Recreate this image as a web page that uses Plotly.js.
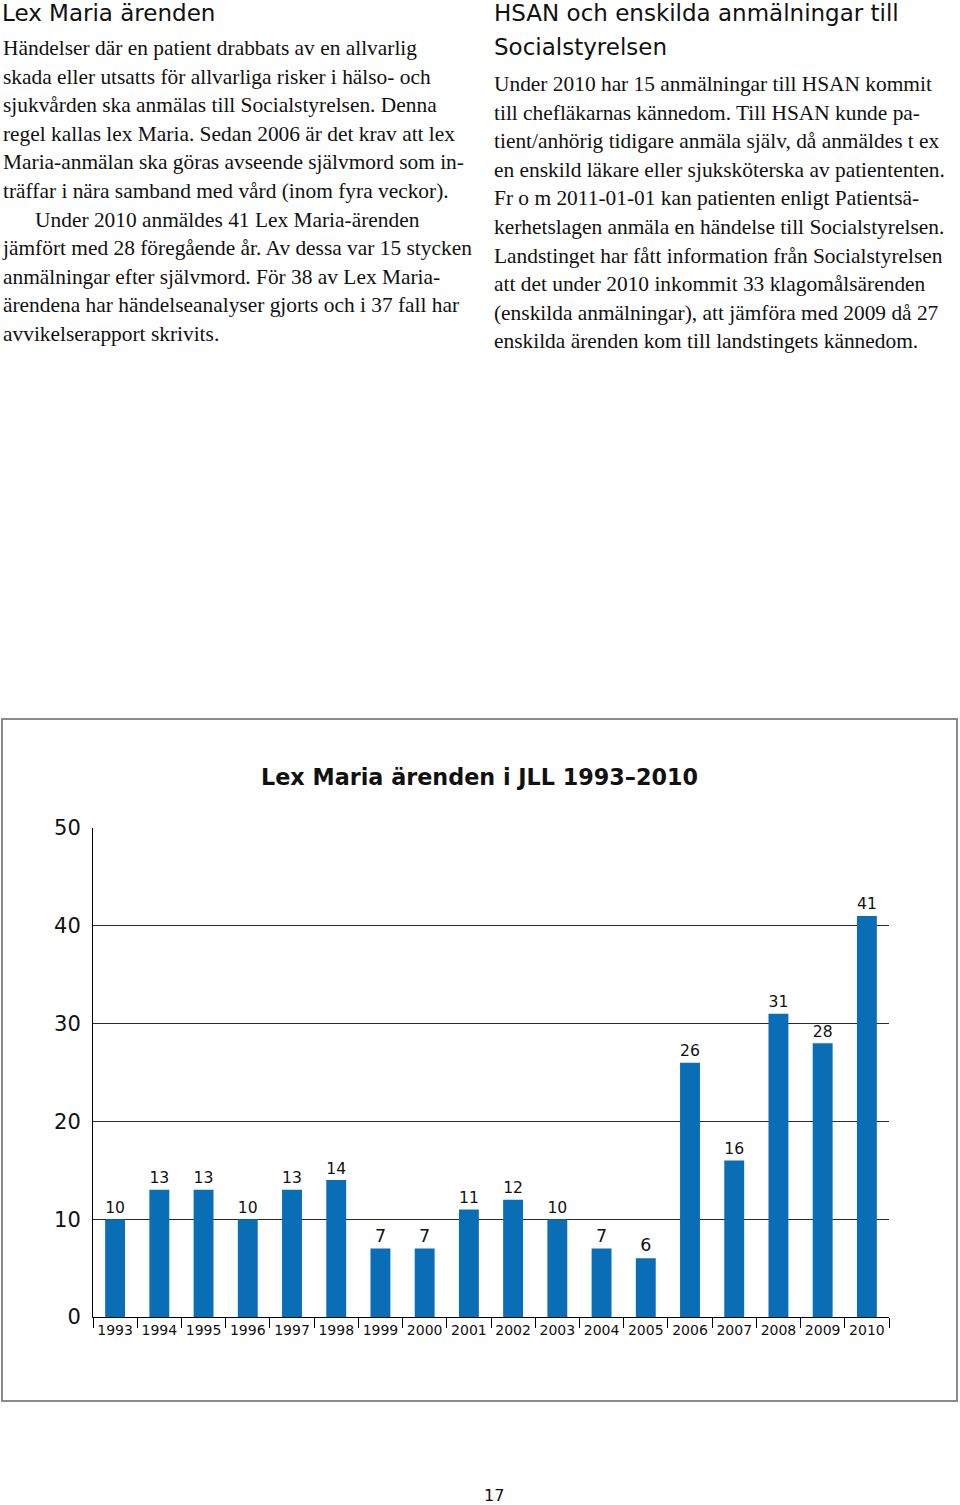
<!DOCTYPE html>
<html>
<head>
<meta charset="utf-8">
<script src="https://cdn.plot.ly/plotly-3.0.1.min.js"></script>
<style>
  body { margin:0; background:#fff; }
  #page { position:relative; width:960px; height:1505px; overflow:hidden; background:#fff; }
  .h { position:absolute; font-family:"DejaVu Sans", sans-serif; font-size:23px; color:#111; white-space:nowrap; line-height:34px; }
  .p { position:absolute; font-family:"Liberation Serif", serif; font-size:21.4px; color:#111; white-space:nowrap; }
  .p div { height:28.6px; line-height:28.6px; }
  #box { position:absolute; left:1px; top:718px; width:957px; height:684px; box-sizing:border-box; border:2px solid #8a8a8a; }
  #chart { position:absolute; left:0; top:0; width:960px; height:1505px; }
  #pnum { position:absolute; left:484px; top:1486px; font-family:"DejaVu Sans", sans-serif; font-size:16px; color:#111; }
</style>
</head>
<body>
<div id="page">
  <div id="box"></div>
  <div id="chart"></div>
  <div class="h" id="h1" style="left:2px;top:-4px;"></div>
  <div class="p" id="p1" style="left:3px;top:34px;"></div>
  <div class="h" id="h2" style="left:494px;top:-4px;"></div>
  <div class="p" id="p2" style="left:494px;top:70px;"></div>
  <div id="pnum"></div>
</div>
<script>
// ---- text content ----
const leftHeading = ['Lex Maria ärenden'];
const leftLines = [
  'Händelser där en patient drabbats av en allvarlig',
  'skada eller utsatts för allvarliga risker i hälso- och',
  'sjukvården ska anmälas till Socialstyrelsen. Denna',
  'regel kallas lex Maria. Sedan 2006 är det krav att lex',
  'Maria-anmälan ska göras avseende självmord som in-',
  'träffar i nära samband med vård (inom fyra veckor).',
  '\u00a0\u00a0\u00a0\u00a0\u00a0\u00a0Under 2010 anmäldes 41 Lex Maria-ärenden',
  'jämfört med 28 föregående år. Av dessa var 15 stycken',
  'anmälningar efter självmord. För 38 av Lex Maria-',
  'ärendena har händelseanalyser gjorts och i 37 fall har',
  'avvikelserapport skrivits.'
];
const rightHeading = ['HSAN och enskilda anmälningar till', 'Socialstyrelsen'];
const rightLines = [
  'Under 2010 har 15 anmälningar till HSAN kommit',
  'till chefläkarnas kännedom. Till HSAN kunde pa-',
  'tient/anhörig tidigare anmäla själv, då anmäldes t ex',
  'en enskild läkare eller sjuksköterska av patiententen.',
  'Fr o m 2011-01-01 kan patienten enligt Patientsä-',
  'kerhetslagen anmäla en händelse till Socialstyrelsen.',
  'Landstinget har fått information från Socialstyrelsen',
  'att det under 2010 inkommit 33 klagomålsärenden',
  '(enskilda anmälningar), att jämföra med 2009 då 27',
  'enskilda ärenden kom till landstingets kännedom.'
];
const pageNumber = '17';

// ---- chart data ----
const chartTitle = 'Lex Maria ärenden i JLL 1993–2010';
const years = ['1993','1994','1995','1996','1997','1998','1999','2000','2001',
               '2002','2003','2004','2005','2006','2007','2008','2009','2010'];
const cases = [10,13,13,10,13,14,7,7,11,12,10,7,6,26,16,31,28,41];

function fill(id, lines) {
  const el = document.getElementById(id);
  lines.forEach(t => { const d = document.createElement('div'); d.textContent = t; el.appendChild(d); });
}
fill('h1', leftHeading);
fill('p1', leftLines);
fill('h2', rightHeading);
fill('p2', rightLines);
document.getElementById('pnum').textContent = pageNumber;

const FONT = 'DejaVu Sans, Verdana, sans-serif';

const traces = [
  {
    type: 'bar',
    x: years,
    y: cases,
    marker: { color: '#0a6eb7' },
    text: cases.map(String),
    textposition: 'outside',
    textfont: { family: FONT, size: 17.5, color: '#111' },
    cliponaxis: false,
    hoverinfo: 'none',
    showlegend: false
  },
  {
    type: 'scatter',
    x: years,
    y: cases,
    xaxis: 'x2',
    yaxis: 'y',
    mode: 'markers',
    marker: { opacity: 0 },
    hoverinfo: 'skip',
    showlegend: false
  }
];

const layout = {
  width: 960,
  height: 1505,
  margin: { l: 93, r: 71, t: 828, b: 188, pad: 0 },
  paper_bgcolor: 'rgba(0,0,0,0)',
  plot_bgcolor: 'rgba(0,0,0,0)',
  showlegend: false,
  bargap: 0.55,
  title: {
    text: '<b>' + chartTitle + '</b>',
    font: { family: FONT, size: 22.3, color: '#111' },
    x: 0.4995, xref: 'container', xanchor: 'center',
    y: 1 - 776.7 / 1505, yref: 'container', yanchor: 'middle'
  },
  xaxis: {
    type: 'category',
    categoryorder: 'array',
    categoryarray: years,
    range: [-0.5, years.length - 0.5],
    showline: true, linecolor: '#000', linewidth: 1,
    ticks: '',
    showgrid: false, zeroline: false,
    tickfont: { family: FONT, size: 14, color: '#111' },
    ticklabelstandoff: 0,
    fixedrange: true
  },
  xaxis2: {
    type: 'category',
    categoryorder: 'array',
    categoryarray: years,
    overlaying: 'x',
    anchor: 'y',
    side: 'bottom',
    range: [-0.5, years.length - 0.5],
    ticks: 'outside', tickson: 'boundaries', ticklen: 10, tickwidth: 1, tickcolor: '#000',
    showticklabels: false, showgrid: false, showline: false, zeroline: false,
    fixedrange: true
  },
  yaxis: {
    range: [0, 50],
    tick0: 0, dtick: 10,
    showgrid: true, gridcolor: '#2a2a2a', gridwidth: 1,
    showline: true, linecolor: '#000', linewidth: 1,
    zeroline: false,
    ticks: '',
    ticklabelstandoff: 7,
    tickfont: { family: FONT, size: 21, color: '#111' },
    fixedrange: true
  }
};

Plotly.newPlot('chart', traces, layout, { displayModeBar: false, staticPlot: true });
</script>
</body>
</html>
